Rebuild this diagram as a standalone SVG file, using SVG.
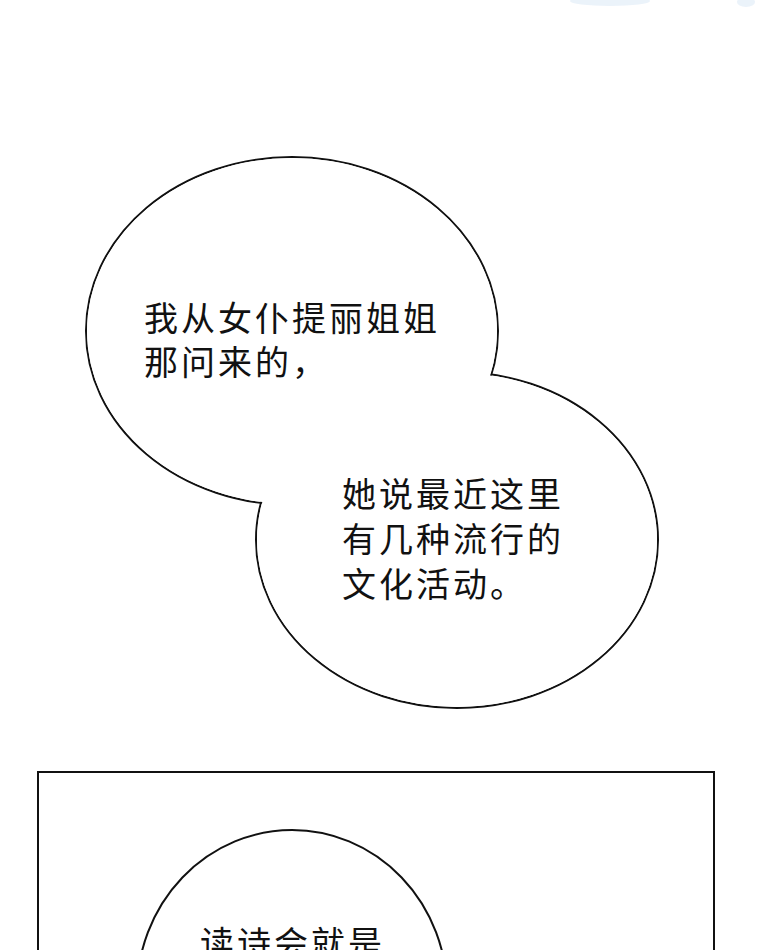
<svg xmlns="http://www.w3.org/2000/svg" width="760" height="950" viewBox="0 0 760 950">
<style>
.o{fill:none;stroke:#111;stroke-width:2}
.f{fill:#fff;stroke:none}
.t{font-family:"Noto Sans CJK SC","Noto Sans",sans-serif;font-size:34px;fill:#111;letter-spacing:3px}
</style>
<rect width="760" height="950" fill="#fff"/>
<g id="deco" fill="#e3eef9" opacity="0.7">
<ellipse cx="610" cy="1" rx="40" ry="5"/>
<ellipse cx="746" cy="2" rx="9" ry="5"/>
</g>
<g id="bubble1">
<ellipse class="o" cx="292" cy="331" rx="206" ry="174"/>
<ellipse class="o" cx="457" cy="540" rx="201" ry="168"/>
<ellipse class="f" cx="292" cy="331" rx="205" ry="173"/>
<ellipse class="f" cx="457" cy="540" rx="200" ry="167"/>
<text class="t" x="144" y="331">我从女仆提丽姐姐</text>
<text class="t" x="144" y="375">那问来的，</text>
<text class="t" x="342" y="507">她说最近这里</text>
<text class="t" x="342" y="552">有几种流行的</text>
<text class="t" x="342" y="597">文化活动。</text>
</g>
<g id="panel2">
<rect x="38" y="772" width="676" height="200" fill="#fff" stroke="#111" stroke-width="2"/>
<ellipse cx="292" cy="992" rx="155" ry="162" fill="#fff" stroke="#111" stroke-width="2"/>
<text class="t" x="200" y="956">读诗会就是</text>
</g>
</svg>
